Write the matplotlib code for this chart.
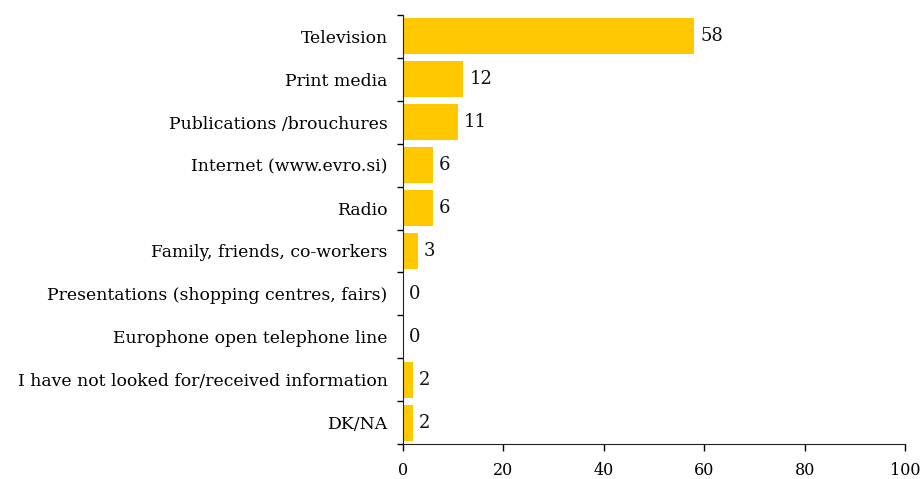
import matplotlib.pyplot as plt
import numpy as np

# Information sources, top to bottom
sources = [
    'Television',
    'Print media',
    'Publications /brouchures',
    'Internet (www.evro.si)',
    'Radio',
    'Family, friends, co-workers',
    'Presentations (shopping centres, fairs)',
    'Europhone open telephone line',
    'I have not looked for/received information',
    'DK/NA',
]
shares = [58, 12, 11, 6, 6, 3, 0, 0, 2, 2]
x_ticks = [0, 20, 40, 60, 80, 100]

plt.rcParams['font.family'] = ['DejaVu Serif']

fig = plt.figure(figsize=(9.21, 4.79), dpi=100)
ax = fig.add_axes([403 / 921, 35 / 479, 502 / 921, 429 / 479])

y = np.arange(len(sources))
ax.barh(y, shares, height=0.84, color='#FFC800')

for yi, v in zip(y, shares):
    ax.text(v + 1.2, yi, str(v), va='center', ha='left', fontsize=13, color='#111111')

ax.set_xlim(0, 100)
ax.set_ylim(len(sources) - 0.5, -0.5)
ax.set_xticks(x_ticks)
ax.set_xticklabels([str(t) for t in x_ticks], fontsize=11.5)

# category labels between the boundary ticks
ax.set_yticks(y)
ax.set_yticklabels(sources, fontsize=12.4)
ax.tick_params(axis='y', length=0, pad=11)
ax.set_yticks(np.arange(-0.5, len(sources)), minor=True)
ax.tick_params(axis='y', which='minor', length=4, width=1, direction='out')
ax.tick_params(axis='x', length=5, width=1, direction='out', pad=8)

ax.spines['top'].set_visible(False)
ax.spines['right'].set_visible(False)
ax.spines['left'].set_color('#222222')
ax.spines['bottom'].set_color('#222222')

fig.savefig('out.png', dpi=100)
